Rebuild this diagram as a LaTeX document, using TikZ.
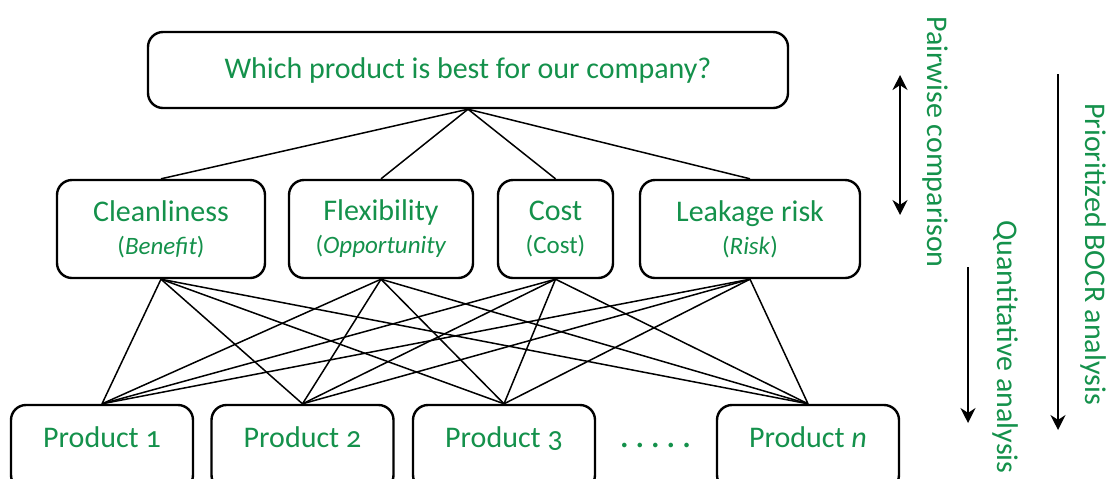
\documentclass[tikz,border=0pt]{standalone}
\usepackage{fontspec}
\setmainfont{Carlito}[Numbers=OldStyle]
\usepackage{tikz}
\usetikzlibrary{arrows.meta,shapes,positioning}
\definecolor{bocrgreen}{RGB}{20,145,75}
\tikzstyle{goal}=[draw, line width=1.2pt, rounded corners=7.5pt, text=bocrgreen, minimum width=320pt, minimum height=38pt, font=\fontsize{15}{16.5}\selectfont]
\tikzstyle{criterion}=[draw, line width=1.2pt, rounded corners=7.5pt, text=bocrgreen, align=center, minimum height=49pt, font=\fontsize{15}{16.5}\selectfont]
\tikzstyle{product}=[draw, line width=1.2pt, rounded corners=7.5pt, text=bocrgreen, minimum width=91pt, minimum height=42.5pt, text height=10pt, text depth=10pt, font=\fontsize{15}{16.5}\selectfont]
\tikzstyle{analysis}=[rotate=-90, text=bocrgreen, font=\fontsize{15}{16.5}\selectfont]
\tikzstyle{link}=[line width=0.75pt]
\tikzstyle{fleche}=[line width=1pt]
\newcommand{\sublabel}[1]{{\fontsize{12.5}{16}\selectfont #1}}

\begin{document}
\begin{tikzpicture}[x=0.5pt,y=-0.5pt]
\useasboundingbox (0,0) rectangle (1106,478);

% goal
\node[goal] (goal) at (468,70) {Which product is best for our company?};

% criteria
\node[criterion, minimum width=104pt] (clean) at (161,229) {Cleanliness\\\sublabel{(\textit{Benefit})}};
\node[criterion, minimum width=92pt] (flex) at (381,229) {Flexibility\\\sublabel{(\textit{Opportunity}}};
\node[criterion, minimum width=57.5pt] (cost) at (555.5,229) {Cost\\\sublabel{(Cost)}};
\node[criterion, minimum width=110pt] (leak) at (750,229) {Leakage risk\\\sublabel{(\textit{Risk})}};

% alternatives
\node[product] (p1) at (102,447.5) {Product 1};
\node[product] (p2) at (302.5,447.5) {Product 2};
\node[product] (p3) at (504,447.5) {Product 3};
\node[product] (pn) at (808,447.5) {Product \textit{n}};
\node[anchor=base, text=bocrgreen, font=\fontsize{19}{20}\selectfont] (dots) at (655.5,447) {.\kern3pt.\kern3pt.\kern3pt.\kern3pt.};

% goal -- criteria
\draw[link] (goal.south) -- (clean.north);
\draw[link] (goal.south) -- (flex.north);
\draw[link] (goal.south) -- (cost.north);
\draw[link] (goal.south) -- (leak.north);

% criteria -- alternatives
\draw[link] (clean.south) -- (p1.north);
\draw[link] (clean.south) -- (p2.north);
\draw[link] (clean.south) -- (p3.north);
\draw[link] (clean.south) -- (pn.north);
\draw[link] (flex.south) -- (p1.north);
\draw[link] (flex.south) -- (p2.north);
\draw[link] (flex.south) -- (p3.north);
\draw[link] (flex.south) -- (pn.north);
\draw[link] (cost.south) -- (p1.north);
\draw[link] (cost.south) -- (p2.north);
\draw[link] (cost.south) -- (p3.north);
\draw[link] (cost.south) -- (pn.north);
\draw[link] (leak.south) -- (p1.north);
\draw[link] (leak.south) -- (p2.north);
\draw[link] (leak.south) -- (p3.north);
\draw[link] (leak.south) -- (pn.north);

% pairwise comparison
\coordinate (pw top) at (900,75);
\coordinate (pw bot) at (900,215);
\draw[fleche, {Stealth[length=7.5pt, width=7.5pt]}-{Stealth[length=7.5pt, width=7.5pt]}] (pw top) -- (pw bot);
\node[analysis] (pairwise) at (935,142) {Pairwise comparison};

% quantitative analysis
\coordinate (qa top) at (968,267);
\coordinate (qa bot) at (968,423);
\draw[fleche, -{Stealth[length=7.5pt, width=7.5pt]}] (qa top) -- (qa bot);
\node[analysis] (quant) at (1005,347) {Quantitative analysis};

% prioritized BOCR
\coordinate (bocr top) at (1058,74);
\coordinate (bocr bot) at (1058,430);
\draw[fleche, -{Stealth[length=7.5pt, width=7.5pt]}] (bocr top) -- (bocr bot);
\node[analysis] (bocr) at (1093,254) {Prioritized BOCR analysis};

\end{tikzpicture}
\end{document}
